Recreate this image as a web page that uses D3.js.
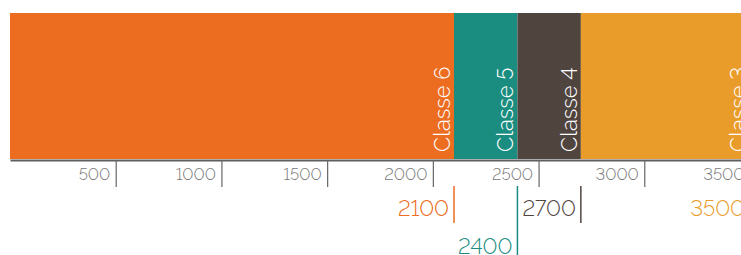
<!DOCTYPE html>
<html>
<head>
<meta charset="utf-8">
<script src="https://cdn.jsdelivr.net/npm/d3@7"></script>
<style>
  body { margin: 0; background: #fff; }
  #chart { width: 741px; height: 255px; overflow: hidden; }
  text { font-family: Raleway, Lato, "Open Sans", sans-serif; font-weight: 300;
         font-variant-numeric: lining-nums; font-feature-settings: "lnum" 1; }
</style>
</head>
<body>
<div id="chart"></div>
<script>
const classes = ["Classe 6", "Classe 5", "Classe 4", "Classe 3"];
const starts = [0, 2100, 2400, 2700];
const ends = [2100, 2400, 2700, 3500];
const colors = ["#ec6c20", "#1a8c80", "#50443f", "#e99c2a"];
const tickValues = [500, 1000, 1500, 2000, 2500, 3000, 3500];

const width = 741, height = 255;
const margin = {top: 13, left: 10};
const barBottom = 159;

const canvas = d3.select("#chart")
    .append("svg")
    .attr("width", width)
    .attr("height", height);

const xScale = d3.scaleLinear()
    .domain([0, 3500])
    .range([margin.left, 750]);

const data = classes.map(function(c, i) {
    return {name: c, start: starts[i], end: ends[i], color: colors[i]};
});

canvas.selectAll("rect.bar")
    .data(data)
    .enter()
    .append("rect")
        .attr("class", "bar")
        .attr("x", d => xScale(d.start))
        .attr("y", margin.top)
        .attr("width", d => xScale(d.end) - xScale(d.start))
        .attr("height", barBottom - margin.top)
        .attr("fill", d => d.color);

// labels inside the bars, rotated
canvas.selectAll("text.classLabel")
    .data(data)
    .enter()
    .append("text")
        .attr("class", "classLabel")
        .attr("transform", d => `translate(${xScale(d.end) - 4}, ${barBottom - 7}) rotate(-90)`)
        .attr("fill", "#fff")
        .attr("font-size", 22)
        .text(d => d.name);

// axis
const xAxis = canvas.append("g")
    .attr("transform", `translate(0, 160)`)
    .call(d3.axisBottom(xScale).tickValues(tickValues).tickSize(27).tickSizeOuter(0).tickFormat(d3.format("")));

xAxis.select(".domain").attr("stroke", "#5f5f5f").attr("stroke-width", 2);
xAxis.selectAll(".tick line").attr("stroke", "#666").attr("stroke-width", 1.2);
xAxis.selectAll(".tick text")
    .attr("text-anchor", "end")
    .attr("x", -6)
    .attr("y", 20)
    .attr("dy", 0)
    .attr("fill", "#777")
    .attr("font-size", 16.5)
    .style("font-family", "Raleway, Lato, 'Open Sans', sans-serif")
    .style("font-weight", 300);

// threshold markers, staggered when too close
let prevX = -1000, prevRow = 1;
data.forEach(function(d) {
    const x = xScale(d.end);
    d.row = (prevRow === 0 && x - prevX < 80) ? 1 : 0;
    prevX = x; prevRow = d.row;
});

const marks = canvas.selectAll("g.mark")
    .data(data)
    .enter()
    .append("g")
        .attr("class", "mark");

marks.append("line")
    .attr("x1", d => xScale(d.end))
    .attr("x2", d => xScale(d.end))
    .attr("y1", 186)
    .attr("y2", d => d.row === 0 ? 223 : 256)
    .attr("stroke", d => d.color)
    .attr("stroke-width", 1.5);

marks.append("text")
    .attr("x", d => xScale(d.end) - 5)
    .attr("y", d => d.row === 0 ? 216 : 254)
    .attr("text-anchor", "end")
    .attr("fill", d => d.color)
    .attr("font-size", 22)
    .text(d => d.end);
</script>
</body>
</html>
